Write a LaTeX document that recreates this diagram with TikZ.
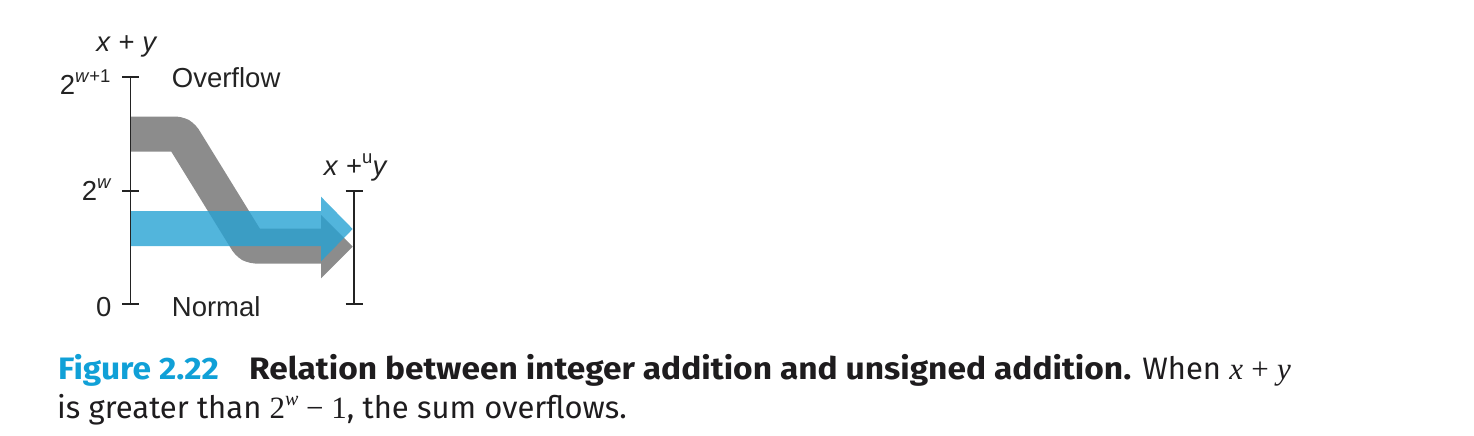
\documentclass[tikz,border=0pt]{standalone}
\usepackage{fontspec}
\setsansfont{Liberation Sans}
\newfontfamily\capfont{Fira Sans}
\newfontfamily\capbold{Fira Sans}[FakeStretch=1.08]
\newfontfamily\serfont{Liberation Serif}
\definecolor{bandgray}{RGB}{140,140,140}
\definecolor{bandblue}{RGB}{39,162,211}
\definecolor{figblue}{RGB}{16,160,215}
\definecolor{axisc}{RGB}{35,35,35}
\definecolor{captext}{RGB}{30,28,30}
\newcommand{\supx}[1]{\raisebox{0.42em}{\fontsize{18.5}{18.5}\selectfont #1}}
\newcommand{\mv}[1]{{\serfont\itshape #1}}
\begin{document}
\begin{tikzpicture}[x=1pt,y=-1pt,
  lbl/.style={font=\sffamily\fontsize{27.5}{30}\selectfont, inner sep=0pt, text=axisc},
  captxt/.style={font=\capfont\fontsize{31}{38}\selectfont, inner sep=0pt, text=captext},
  axisline/.style={draw=axisc, line width=1.6pt},
  band/.style={line width=35pt, line join=round, rounded corners=5pt}]
\useasboundingbox (0,0) rectangle (1474,436);
% coordinates
\coordinate (ltop) at (130.5,77);
\coordinate (lmid) at (130.5,190.7);
\coordinate (lbot) at (130.5,304);
\coordinate (rtop) at (354,190.7);
\coordinate (rbot) at (354,304);
% gray overflow band
\coordinate (g0) at (130.5,134);
\coordinate (g1) at (181,134);
\coordinate (g2) at (250,246);
\coordinate (g3) at (321.5,246);
\draw[band, draw=bandgray] (g0) -- (g1) -- (g2) -- (g3);
\fill[bandgray] (321,215) -- (352.7,246.7) -- (321,278.3) -- cycle;
% blue normal band
\fill[bandblue, opacity=0.8] (130.5,211) -- (321,211) -- (321,196.7) -- (352.7,229) -- (321,261.3) -- (321,246) -- (130.5,246) -- cycle;
% axes
\draw[axisline] (ltop) -- (lbot);
\draw[axisline] ([xshift=-8.5pt]ltop) -- ([xshift=8.5pt]ltop);
\draw[axisline] ([xshift=-8.5pt]lmid) -- ([xshift=8.5pt]lmid);
\draw[axisline] ([xshift=-8.5pt]lbot) -- ([xshift=8.5pt]lbot);
\draw[axisline] (rtop) -- (rbot);
\draw[axisline] ([xshift=-8.5pt]rtop) -- ([xshift=8.5pt]rtop);
\draw[axisline] ([xshift=-8.5pt]rbot) -- ([xshift=8.5pt]rbot);
% labels
\node[lbl, anchor=base] (sumlbl) at (127,52) {\textit{x} + \textit{y}};
\node[lbl, anchor=base east] (toplbl) at (110.7,94.5) {2\supx{\textit{w}+1}};
\node[lbl, anchor=base west] (ovf) at (171.7,88) {Overflow};
\node[lbl, anchor=base east] (midlbl) at (111.7,200) {2\supx{\textit{w}}};
\node[lbl, anchor=base east] (botlbl) at (111.7,316.5) {0};
\node[lbl, anchor=base west] (nrm) at (171.7,316.5) {Normal};
\node[lbl, anchor=base] (ulbl) at (355.8,175) {\textit{x} +\supx{u}\textit{y}};
% caption
\node[captxt, anchor=base west, text=figblue, font=\capbold\bfseries\fontsize{31}{38}\selectfont] (fignum) at (58,379.3) {Figure 2.22};
\node[captxt, anchor=base west] (cap1) at (249,379.3) {{\capbold\bfseries Relation between integer addition and unsigned addition.} When \mv{x} {\serfont+} \mv{y}};
\node[captxt, anchor=base west] (cap2) at (57,418) {is greater than {\serfont 2\raisebox{0.4em}{\fontsize{20}{20}\selectfont\itshape w} − 1}, the sum overflows.};
\end{tikzpicture}
\end{document}
